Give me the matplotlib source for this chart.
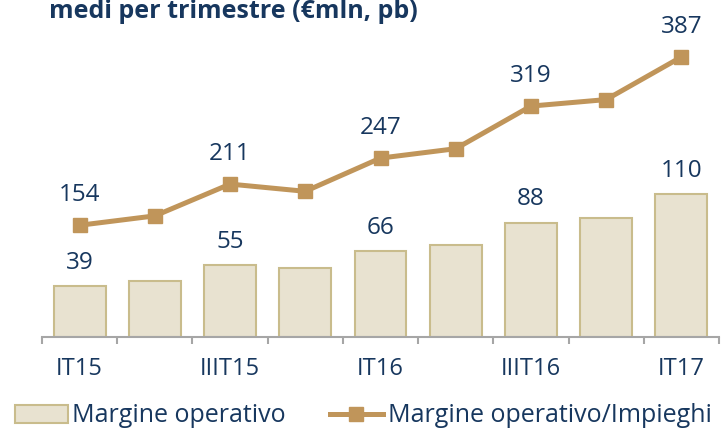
import matplotlib
matplotlib.use("Agg")
import matplotlib.pyplot as plt
from matplotlib.patches import Patch
from matplotlib.lines import Line2D

categories = ["IT15", "IIT15", "IIIT15", "IVT15", "IT16", "IIT16", "IIIT16", "IVT16", "IT17"]
tick_labels = ["IT15", "", "IIIT15", "", "IT16", "", "IIIT16", "", "IT17"]
margine = [39, 43, 55, 53, 66, 71, 88, 92, 110]
margine_impieghi = [154, 167, 211, 201, 247, 260, 319, 328, 387]
labelled = [0, 2, 4, 6, 8]

NAVY = "#17375E"
BAR_FC = "#E8E2D0"
BAR_EC = "#C9BC8C"
LINE_C = "#C0955A"
AXIS_C = "#A6A6A6"
FONT = "Open Sans"

W, H = 725, 429
fig = plt.figure(figsize=(W / 100, H / 100), dpi=100)

left, right, bottom, top = 42, 719, 336.5, 20
ax = fig.add_axes([left / W, 1 - bottom / H, (right - left) / W, (bottom - top) / H])
ax2 = ax.twinx()

x = list(range(len(categories)))
ax.bar(x, margine, width=0.69, color=BAR_FC, edgecolor=BAR_EC, linewidth=1.5, zorder=2)
ax.set_xlim(-0.5, len(categories) - 0.5)
ax.set_ylim(0, (bottom - top) / 1.293)

ax2.plot(x, margine_impieghi, color=LINE_C, linewidth=3.6, marker="s", markersize=10,
         markerfacecolor=LINE_C, markeredgecolor=LINE_C, zorder=3)
ax2.set_ylim(0, (bottom - top) / 0.7223)

for a in (ax, ax2):
    for s in ("top", "right", "left"):
        a.spines[s].set_visible(False)
    a.set_yticks([])
ax2.spines["bottom"].set_visible(False)
ax.spines["bottom"].set_color(AXIS_C)
ax.spines["bottom"].set_linewidth(1.5)

ax.set_xticks(x)
ax.set_xticklabels(tick_labels, fontsize=17, color=NAVY, family=FONT)
ax.tick_params(axis="x", which="major", length=0, pad=14.5)
ax.set_xticks([i - 0.5 for i in range(len(categories) + 1)], minor=True)
ax.tick_params(axis="x", which="minor", length=5, width=1.5, color=AXIS_C)

for i in labelled:
    ax.annotate(str(margine[i]), (x[i], margine[i]), xytext=(0, 12.6), textcoords="offset points",
                ha="center", va="baseline", fontsize=17.5, color=NAVY, family=FONT)
    ax2.annotate(str(margine_impieghi[i]), (x[i], margine_impieghi[i]), xytext=(0, 17.5),
                 textcoords="offset points", ha="center", va="baseline", fontsize=17.5,
                 color=NAVY, family=FONT, annotation_clip=False)

fig.text(49 / W, 1 - 18 / H, "medi per trimestre (€mln, pb)", fontsize=18, fontweight="bold",
         color=NAVY, family=FONT, va="baseline", ha="left")

handles = [Patch(facecolor=BAR_FC, edgecolor=BAR_EC, linewidth=1.5),
           Line2D([0], [0], color=LINE_C, linewidth=3.6, marker="s", markersize=10)]
leg = fig.legend(handles, ["Margine operativo", "Margine operativo/Impieghi"],
                 loc="center left", bbox_to_anchor=(15 / W, 1 - 416 / H), ncol=2,
                 frameon=False, borderpad=0, borderaxespad=0, handlelength=2.1,
                 handletextpad=0.2, columnspacing=1.76,
                 prop={"family": FONT, "size": 18})
for t in leg.get_texts():
    t.set_color(NAVY)

fig.savefig("out.png", dpi=100)
